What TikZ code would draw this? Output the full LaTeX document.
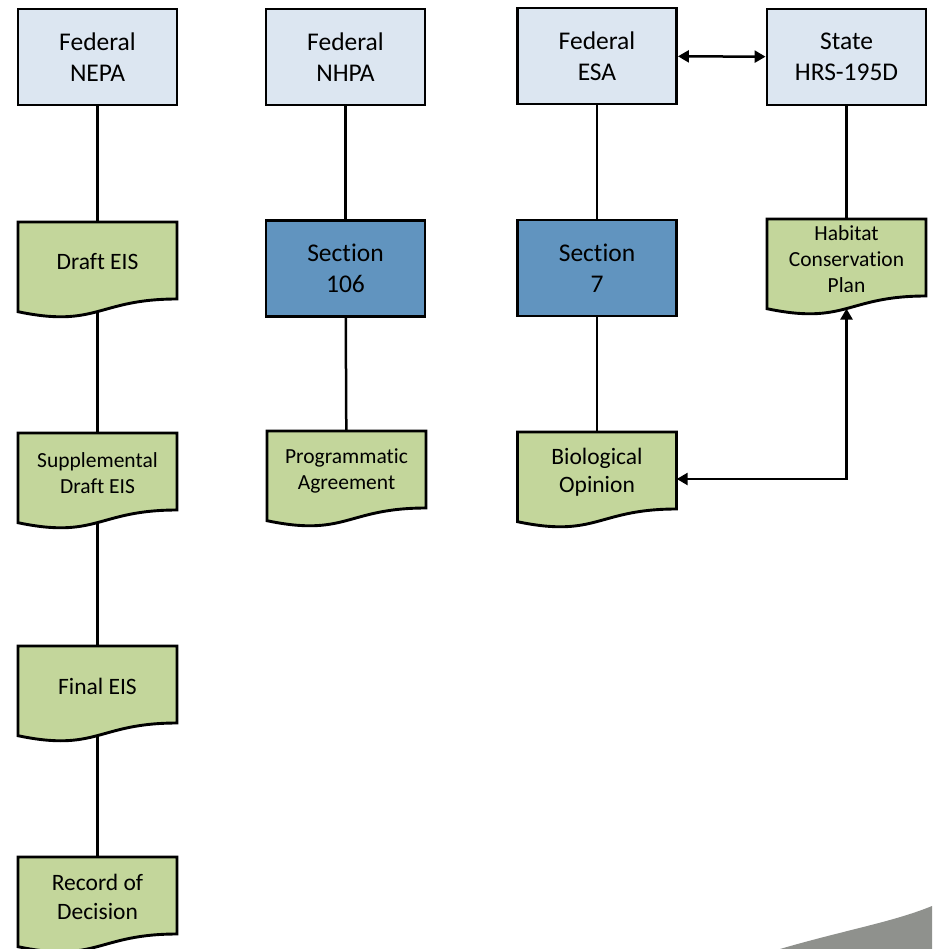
\documentclass[tikz,border=0pt]{standalone}
\usepackage{fontspec}
\setmainfont[Ligatures=NoCommon]{Carlito}
\usetikzlibrary{arrows.meta}

\definecolor{agencyfill}{HTML}{DCE6F1}
\definecolor{sectionfill}{HTML}{6194BF}
\definecolor{docfill}{HTML}{C3D69B}
\definecolor{cornergray}{HTML}{8F918D}

\tikzset{
  x=1pt, y=-1pt,
  box/.style={draw=black, line width=2.9pt, minimum width=159pt, minimum height=96pt,
              inner sep=0pt, align=center, font=\fontsize{25.5}{31}\selectfont},
  agency/.style={box, fill=agencyfill},
  sectionbox/.style={box, fill=sectionfill},
  docshape/.style={draw=black, fill=docfill, line width=2.9pt, line join=miter},
  doctext/.style={inner sep=0pt, minimum width=159pt, minimum height=80pt, align=center},
  bigdoc/.style={font=\fontsize{23.5}{28.5}\selectfont},
  smalldoc/.style={font=\fontsize{21.5}{26}\selectfont},
  conn/.style={draw=black, line width=2.5pt},
  tip/.tip={Triangle[length=11pt, width=12pt]},
}

% document shape: name, centre x, top y, text style, text
\newcommand\docnode[5]{%
  \path[docshape] (#2-79.5,#3) -- (#2+79.5,#3) -- (#2+79.5,#3+77)
    .. controls (#2,#3+77) and (#2,#3+106.3) .. (#2-79.5,#3+89.7) -- cycle;
  \node[doctext, #4] (#1) at (#2,#3+40) {#5};
  \coordinate (#1-foot) at (#2,#3+89.6);
}

\begin{document}
\begin{tikzpicture}
\useasboundingbox (0,0) rectangle (932,949);

% corner decoration
\fill[cornergray] (780,949) .. controls (845,930) and (893,922) .. (932,906) -- (932,949) -- cycle;

% top row: statutes
\node[agency] (nepa)  at (97.5,57) {Federal\\NEPA};
\node[agency] (nhpa)  at (345.5,57) {Federal\\NHPA};
\node[agency] (esa)   at (597,56) {Federal\\ESA};
\node[agency] (state) at (846.5,57) {State\\HRS-195D};

% second row
\node[sectionbox] (s106) at (345.5,268.5) {Section\\106};
\node[sectionbox] (s7)   at (597,268) {Section\\7};

% documents
\docnode{draft}{97.5}{222}{bigdoc}{Draft EIS}
\docnode{supp}{97.5}{433}{smalldoc}{Supplemental\\Draft EIS}
\docnode{final}{97.5}{646}{bigdoc}{Final EIS}
\docnode{rod}{97.5}{857}{bigdoc}{Record of\\Decision}
\docnode{pa}{346.5}{431}{smalldoc}{Programmatic\\Agreement}
\docnode{bio}{597}{432}{bigdoc}{Biological\\Opinion}
\docnode{hcp}{846.5}{219}{smalldoc}{Habitat\\Conservation\\Plan}

% connectors
\draw[conn] (nepa) -- (draft);
\draw[conn] (draft-foot) -- (supp);
\draw[conn] (supp-foot) -- (final);
\draw[conn] (final-foot) -- (rod);
\draw[conn] (nhpa) -- (s106);
\draw[conn] (s106) -- (pa);
\draw[conn] (esa) -- (s7);
\draw[conn] (s7) -- (bio);
\draw[conn] (state) -- (hcp);
\draw[conn, tip-tip] (esa) -- (state);
\draw[conn, tip-tip] (hcp-foot) |- ([yshift=-7pt]bio.east);
\end{tikzpicture}
\end{document}
